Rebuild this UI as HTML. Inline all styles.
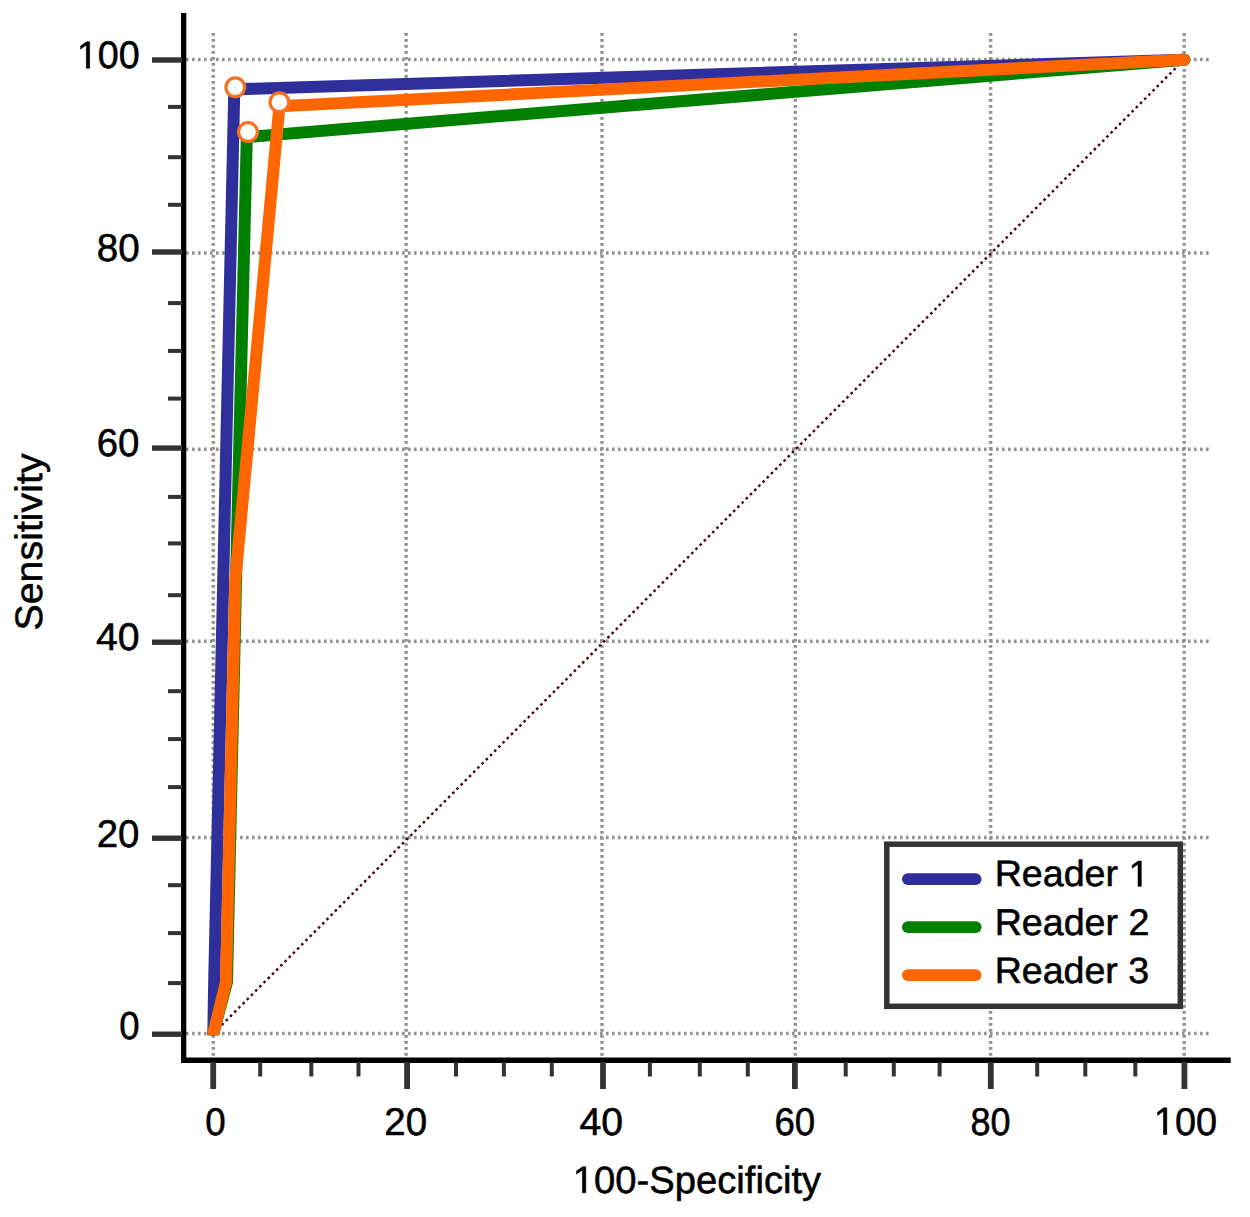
<!DOCTYPE html>
<html><head><meta charset="utf-8"><title>ROC curve</title>
<style>html,body{margin:0;padding:0;background:#fff;}body{width:1250px;height:1217px;overflow:hidden;}svg{display:block;}text{font-family:"Liberation Sans", sans-serif;font-kerning:none;font-variant-ligatures:none;text-rendering:geometricPrecision;}</style>
</head><body>
<svg width="1250" height="1217" viewBox="0 0 1250 1217">
<rect x="0" y="0" width="1250" height="1217" fill="#fff"/>
<g stroke="#939393" stroke-width="3.5" stroke-dasharray="2.8 3.2" fill="none"><line x1="213.3" y1="33" x2="213.3" y2="1057.5"/><line x1="406.1" y1="33" x2="406.1" y2="1057.5"/><line x1="602.0" y1="33" x2="602.0" y2="1057.5"/><line x1="795.3" y1="33" x2="795.3" y2="1057.5"/><line x1="990.6" y1="33" x2="990.6" y2="1057.5"/><line x1="1184.2" y1="33" x2="1184.2" y2="1057.5"/></g>
<g stroke="#939393" stroke-width="3.5" stroke-dasharray="2.6 3.4" fill="none"><line x1="186" y1="1033.5" x2="1209.5" y2="1033.5"/><line x1="186" y1="837.5" x2="1209.5" y2="837.5"/><line x1="186" y1="641.3" x2="1209.5" y2="641.3"/><line x1="186" y1="449.2" x2="1209.5" y2="449.2"/><line x1="186" y1="253.0" x2="1209.5" y2="253.0"/><line x1="186" y1="59.5" x2="1209.5" y2="59.5"/></g>
<line x1="213.3" y1="1033.5" x2="1184.2" y2="59.5" stroke="#4a0008" stroke-width="2.4" stroke-dasharray="2.6 3.34"/>
<defs><clipPath id="cc"><rect x="0" y="0" width="1250" height="1035.2"/></clipPath></defs>
<g clip-path="url(#cc)">
<path d="M213.3,1033.5 L214.2,980.0 L234.3,89.3 L1184.3,59.7" fill="none" stroke="#2f2f9c" stroke-width="12.0" stroke-linejoin="round" stroke-linecap="round"/>
<path d="M213.3,1033.5 L227.0,982.0 L236.5,560.0 L246.8,137.0 L1184.3,59.7" fill="none" stroke="#008000" stroke-width="12.0" stroke-linejoin="round" stroke-linecap="round"/>
<path d="M213.3,1033.5 L226.0,982.0 L235.3,580.0 L279.4,106.3 L1184.3,59.7" fill="none" stroke="#ff6600" stroke-width="12.0" stroke-linejoin="round" stroke-linecap="round"/>
</g>
<circle cx="235.3" cy="87.2" r="9.4" fill="#fff" stroke="#f77022" stroke-width="3.2"/>
<circle cx="248.0" cy="132.0" r="9.4" fill="#fff" stroke="#f77022" stroke-width="3.2"/>
<circle cx="279.4" cy="102.2" r="9.4" fill="#fff" stroke="#f77022" stroke-width="3.2"/>
<rect x="181" y="13" width="5.3" height="1050" fill="#000"/>
<rect x="181" y="1057.5" width="1049.7" height="5.5" fill="#000"/>
<rect x="210.3" y="1062" width="5.8" height="27" fill="#333333"/><rect x="404.2" y="1062" width="5.8" height="27" fill="#333333"/><rect x="600.1" y="1062" width="5.8" height="27" fill="#333333"/><rect x="792.0" y="1062" width="5.8" height="27" fill="#333333"/><rect x="987.9" y="1062" width="5.8" height="27" fill="#333333"/><rect x="1181.5" y="1062" width="5.8" height="27" fill="#333333"/><rect x="258.2" y="1062" width="4" height="14.5" fill="#333333"/><rect x="309.3" y="1062" width="4" height="14.5" fill="#333333"/><rect x="356.5" y="1062" width="4" height="14.5" fill="#333333"/><rect x="454.0" y="1062" width="4" height="14.5" fill="#333333"/><rect x="501.9" y="1062" width="4" height="14.5" fill="#333333"/><rect x="549.8" y="1062" width="4" height="14.5" fill="#333333"/><rect x="647.9" y="1062" width="4" height="14.5" fill="#333333"/><rect x="697.8" y="1062" width="4" height="14.5" fill="#333333"/><rect x="745.8" y="1062" width="4" height="14.5" fill="#333333"/><rect x="843.7" y="1062" width="4" height="14.5" fill="#333333"/><rect x="891.8" y="1062" width="4" height="14.5" fill="#333333"/><rect x="937.6" y="1062" width="4" height="14.5" fill="#333333"/><rect x="1035.2" y="1062" width="4" height="14.5" fill="#333333"/><rect x="1083.3" y="1062" width="4" height="14.5" fill="#333333"/><rect x="1133.3" y="1062" width="4" height="14.5" fill="#333333"/><rect x="152" y="1031.5" width="30" height="5.4" fill="#333333"/><rect x="152" y="835.5" width="30" height="5.4" fill="#333333"/><rect x="152" y="639.5" width="30" height="5.4" fill="#333333"/><rect x="152" y="445.4" width="30" height="5.4" fill="#333333"/><rect x="152" y="249.3" width="30" height="5.4" fill="#333333"/><rect x="152" y="57.3" width="30" height="5.4" fill="#333333"/><rect x="168" y="104.9" width="14" height="4" fill="#333333"/><rect x="168" y="155.2" width="14" height="4" fill="#333333"/><rect x="168" y="202.8" width="14" height="4" fill="#333333"/><rect x="168" y="301.1" width="14" height="4" fill="#333333"/><rect x="168" y="348.9" width="14" height="4" fill="#333333"/><rect x="168" y="396.6" width="14" height="4" fill="#333333"/><rect x="168" y="494.9" width="14" height="4" fill="#333333"/><rect x="168" y="541.4" width="14" height="4" fill="#333333"/><rect x="168" y="593.2" width="14" height="4" fill="#333333"/><rect x="168" y="689.2" width="14" height="4" fill="#333333"/><rect x="168" y="737.1" width="14" height="4" fill="#333333"/><rect x="168" y="785.1" width="14" height="4" fill="#333333"/><rect x="168" y="883.2" width="14" height="4" fill="#333333"/><rect x="168" y="931.1" width="14" height="4" fill="#333333"/><rect x="168" y="981.1" width="14" height="4" fill="#333333"/>
<g fill="#000" stroke="#000" stroke-width="0.55" stroke-linejoin="round"><text transform="translate(76.85,68.25) scale(0.9786,1)" font-size="38.49"><tspan fill="transparent" stroke="none">1</tspan>00</text><path d="M86.32 68.25V45L80.48 49.27V46.07L86.6 41.77H89.65V68.25Z"/><text transform="translate(96.80,260.55) scale(0.9956,1)" font-size="38.77">80</text><text transform="translate(96.73,456.35) scale(0.9937,1)" font-size="38.63">60</text><text transform="translate(95.88,650.35) scale(1.0180,1)" font-size="38.49">40</text><text transform="translate(96.75,846.55) scale(0.9969,1)" font-size="38.49">20</text><text transform="translate(119.15,1038.54) scale(0.9381,1)" font-size="38.91">0</text><text transform="translate(205.14,1134.55) scale(0.9469,1)" font-size="38.77">0</text><text transform="translate(384.34,1134.55) scale(0.9922,1)" font-size="38.77">20</text><text transform="translate(579.48,1134.55) scale(1.0105,1)" font-size="38.77">40</text><text transform="translate(774.42,1134.55) scale(0.9447,1)" font-size="38.77">60</text><text transform="translate(970.51,1134.55) scale(0.9280,1)" font-size="38.77">80</text><text transform="translate(1153.93,1134.55) scale(0.9766,1)" font-size="38.77"><tspan fill="transparent" stroke="none">1</tspan>00</text><path d="M1163.45 1134.55V1111.13L1157.58 1115.43V1112.21L1163.73 1107.87H1166.8V1134.55Z"/><text transform="translate(572.80,1192.86) scale(1.0076,1)" font-size="37.92"><tspan fill="transparent" stroke="none">1</tspan>00-Specificity</text><path d="M582.41 1192.86V1169.95L576.48 1174.15V1171L582.69 1166.76H585.79V1192.86Z"/><g transform="translate(14,629) rotate(-90)"><text transform="translate(-1.51,27.99) scale(1.0288,1)" font-size="38.25">Sensitivity</text></g></g>
<rect x="886.8" y="844.2" width="293.5" height="162.1" fill="#fff" stroke="#333333" stroke-width="5.5"/>
<line x1="907.8" y1="879.2" x2="975.7" y2="879.2" stroke="#2f2f9c" stroke-width="11.7" stroke-linecap="round"/>
<line x1="907.8" y1="927.2" x2="975.7" y2="927.2" stroke="#008000" stroke-width="11.7" stroke-linecap="round"/>
<line x1="907.8" y1="975.2" x2="975.7" y2="975.2" stroke="#ff6600" stroke-width="11.7" stroke-linecap="round"/>
<g fill="#000" stroke="#000" stroke-width="0.55" stroke-linejoin="round"><text transform="translate(994.69,886.37) scale(1.0252,1)" font-size="36.70">Reader <tspan fill="transparent" stroke="none">1</tspan></text><path d="M1138 886.37V864.2L1132.16 868.27V865.22L1138.28 861.12H1141.32V886.37Z"/><text transform="translate(994.69,934.76) scale(1.0099,1)" font-size="37.24">Reader 2</text><text transform="translate(994.69,982.57) scale(1.0271,1)" font-size="36.56">Reader 3</text></g>
</svg>
</body></html>
